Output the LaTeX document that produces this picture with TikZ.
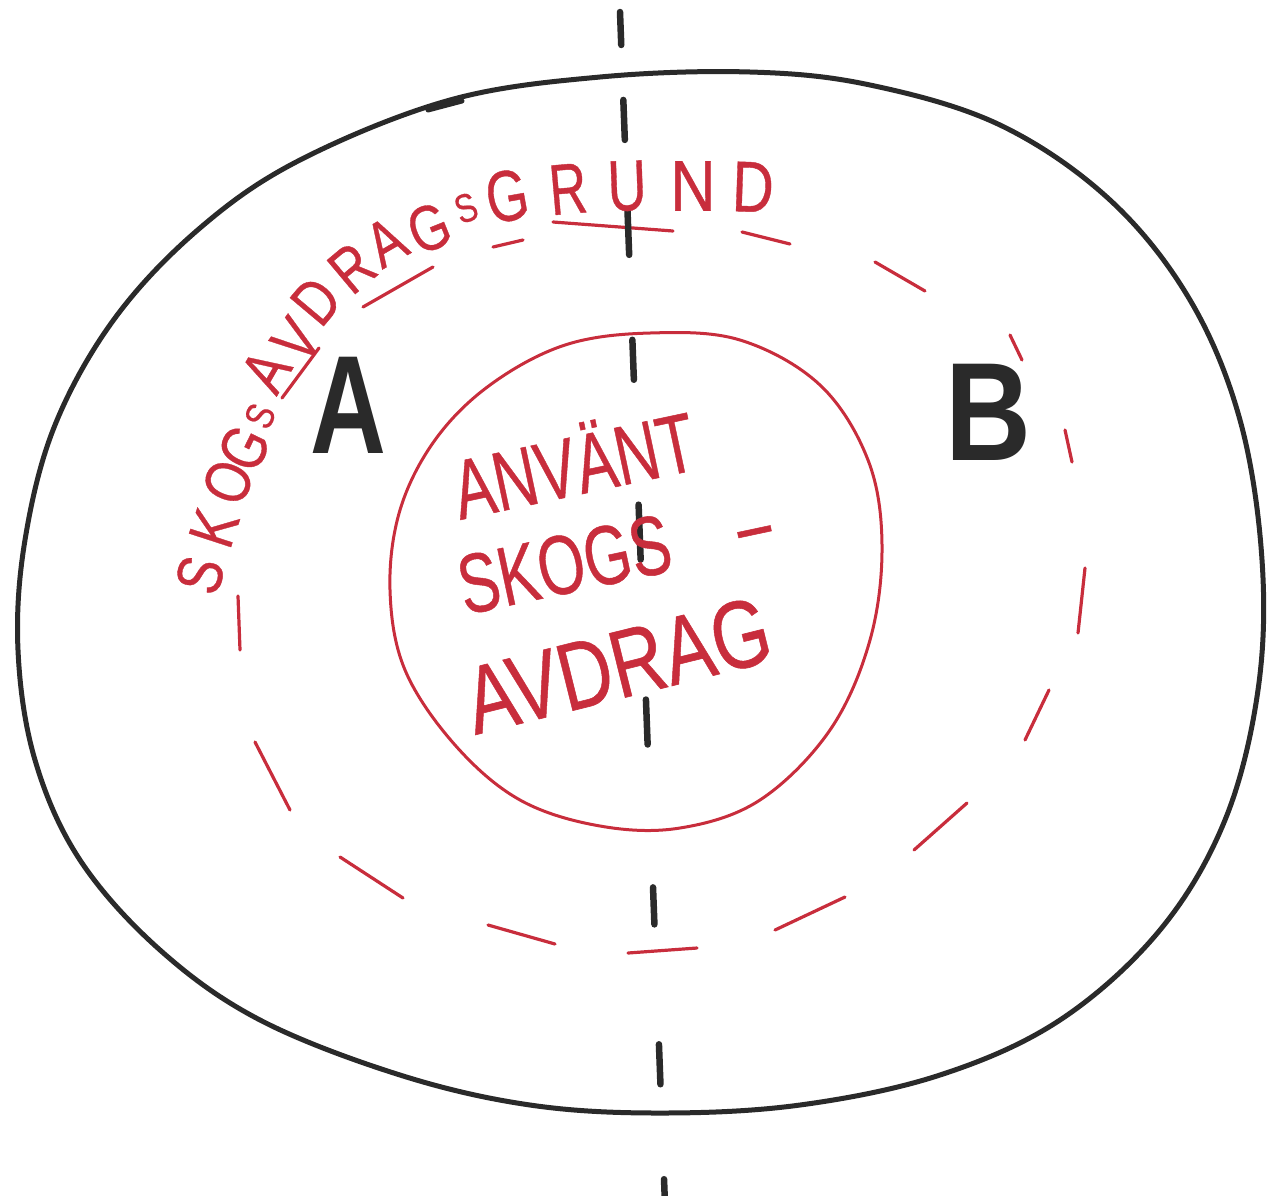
\documentclass[tikz,border=0pt]{standalone}
\usepackage{fontspec}
\setmainfont{Liberation Sans}
\newfontfamily\markerfont[FakeBold=0.6]{Liberation Sans}
\definecolor{mred}{RGB}{200,45,60}
\definecolor{mblack}{RGB}{42,42,42}
\begin{document}
\begin{tikzpicture}[x=1pt,y=-1pt,
  outerline/.style={draw=mblack, line width=5pt, line cap=round, line join=round},
  redline/.style={draw=mred, line width=3pt},
  reddash/.style={draw=mred, line width=3.2pt, line cap=round},
  axisdash/.style={draw=mblack, line width=6.5pt, line cap=round,
    dash pattern=on 33pt off 55pt on 40pt off 70pt on 45pt off 85pt on 40pt off 125pt on 55pt off 140pt on 45pt off 143pt on 37pt off 120pt on 40pt off 95pt on 20pt off 50pt},
  bigletter/.style={text=mblack, font=\fontsize{140}{140}\selectfont\bfseries, inner sep=0pt},
  redtext/.style={text=mred, inner sep=0pt, anchor=base west},
  arcbig/.style={text=mred, inner sep=0pt, font=\markerfont\fontsize{64}{64}\selectfont},
  arcsmall/.style={text=mred, inner sep=0pt, font=\markerfont\fontsize{40}{40}\selectfont},
  archuge/.style={text=mred, inner sep=0pt, font=\markerfont\fontsize{72}{72}\selectfont},
]
\useasboundingbox (0,0) rectangle (1281,1195);

% outer black ellipse
\draw[outerline] plot[smooth cycle, tension=0.6] coordinates {
 (450,100) (600,77) (750,72) (870,85) (1000,125) (1110,200) (1190,300) (1240,420)
 (1262,560) (1258,690) (1225,820) (1160,930) (1060,1020) (940,1075) (800,1105)
 (660,1113) (530,1105) (400,1075) (260,1020) (160,950) (80,860) (35,760) (18,650)
 (25,540) (55,425) (115,318) (200,228) (300,160)};
\draw[outerline] (428,110) -- (462,101);

% inner red circle
\draw[redline] plot[smooth cycle, tension=0.6] coordinates {
 (650,333) (740,340) (820,385) (868,460) (882,545) (870,640) (830,730) (760,800)
 (680,828) (600,826) (520,800) (455,745) (405,670) (390,590) (400,510) (435,440)
 (490,385) (565,345)};

% red dashed ellipse (dashes drawn one by one)
\draw[reddash] (553,222) -- (673,231);
\draw[reddash] (742,232) -- (790,244);
\draw[reddash] (875,262) -- (925,291);
\draw[reddash] (1010,335) -- (1022,360);
\draw[reddash] (1065,430) -- (1072,462);
\draw[reddash] (1085,568) -- (1078,633);
\draw[reddash] (1049,690) -- (1025,740);
\draw[reddash] (967,803) -- (914,850);
\draw[reddash] (845,897) -- (775,930);
\draw[reddash] (697,948) -- (628,953);
\draw[reddash] (555,944) -- (488,925);
\draw[reddash] (403,898) -- (340,857);
\draw[reddash] (290,810) -- (255,742);
\draw[reddash] (240,650) -- (238,596);
\draw[reddash] (282,398) -- (319,348);
\draw[reddash] (363,307) -- (433,267);
\draw[reddash] (493,247) -- (523,240);

% vertical axis
\coordinate (axtop) at (620,12);
\coordinate (axbot) at (665,1205);
\draw[axisdash] (axtop) -- (axbot);

% curved text SKOGSAVDRAGSGRUND
\node[arcbig, rotate=74] (c1) at (200,575) {\scalebox{0.8}[1]{S}};
\node[arcbig, rotate=72] (c2) at (214,528) {\scalebox{0.8}[1]{K}};
\node[arcbig, rotate=68] (c3) at (228,482) {\scalebox{0.8}[1]{O}};
\node[arcbig, rotate=64] (c4) at (244,448) {\scalebox{0.8}[1]{G}};
\node[arcsmall, rotate=66] (c5) at (260,416) {\scalebox{0.8}[1]{S}};
\node[arcbig, rotate=60] (c6) at (266,371) {\scalebox{0.8}[1]{A}};
\node[arcbig, rotate=54] (c7) at (296,340) {\scalebox{0.8}[1]{V}};
\node[arcbig, rotate=50] (c8) at (316,301) {\scalebox{0.8}[1]{D}};
\node[arcbig, rotate=40] (c9) at (352,268) {\scalebox{0.8}[1]{R}};
\node[arcbig, rotate=30] (c10) at (386,242) {\scalebox{0.8}[1]{A}};
\node[arcbig, rotate=22] (c11) at (429,228) {\scalebox{0.8}[1]{G}};
\node[arcsmall, rotate=20] (c12) at (466,208) {\scalebox{0.8}[1]{S}};
\node[archuge, rotate=10] (c13) at (507,196) {\scalebox{0.75}[1]{G}};
\node[archuge, rotate=5] (c14) at (568,189) {\scalebox{0.72}[1]{R}};
\node[archuge, rotate=2] (c15) at (627,186) {\scalebox{0.75}[1]{U}};
\node[archuge, rotate=0] (c16) at (693,186) {\scalebox{0.88}[1]{N}};
\node[archuge, rotate=-2] (c17) at (753,187) {\scalebox{0.8}[1]{D}};

% letters A and B
\node[bigletter] (A) at (348,405) {\scalebox{0.75}[1]{A}};
\node[bigletter] (B) at (988,412) {\scalebox{0.85}[1]{B}};

% centre text
\node[redtext, rotate=12, font=\markerfont\fontsize{84}{84}\selectfont] (l1) at (460,520) {\scalebox{0.72}[1]{ANVÄNT}};
\node[redtext, rotate=12, font=\markerfont\fontsize{84}{84}\selectfont] (l2) at (465,615) {\scalebox{0.72}[1]{SKOGS\hspace{95pt}–}};
\node[redtext, rotate=14, font=\markerfont\fontsize{96}{96}\selectfont] (l3) at (475,735) {\scalebox{0.78}[1]{AVDRAG}};
\end{tikzpicture}
\end{document}
